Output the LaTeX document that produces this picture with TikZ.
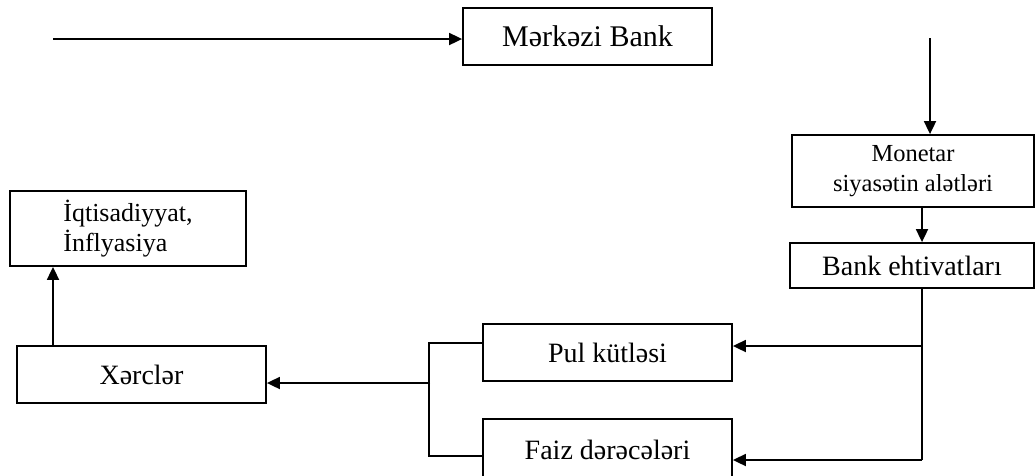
\documentclass[tikz,border=0pt]{standalone}
\usepackage{fontspec}
\setmainfont{Liberation Serif}
\usetikzlibrary{arrows.meta}

\begin{document}
\begin{tikzpicture}[x=1pt, y=-1pt,
    box/.style={draw, line width=1.8pt, inner sep=0pt, font=\fontsize{28}{31}\selectfont},
    arr/.style={line width=1.8pt, -{Triangle[length=13pt,width=12pt]}},
    ln/.style={line width=1.8pt}]
    \useasboundingbox (0,0) rectangle (1035,475);

    \node[box, minimum width=249pt, minimum height=57pt, font=\fontsize{30}{33}\selectfont] (merkezi) at (587.5,36.5) {Mərkəzi Bank};
    \node[box, minimum width=242pt, minimum height=72pt, align=center, font=\fontsize{24.5}{30}\selectfont] (monetar) at (913,171) {Monetar\\ siyasətin alətləri};
    \node[box, minimum width=244pt, minimum height=45pt] (bank) at (912,265.5) {Bank ehtivatları};
    \node[box, minimum width=249pt, minimum height=57pt] (pul) at (607.5,352.5) {Pul kütləsi};
    \node[box, minimum width=249pt, minimum height=62pt] (faiz) at (607.5,450) {Faiz dərəcələri};
    \node[box, minimum width=249pt, minimum height=57pt] (xerc) at (141.5,374.5) {Xərclər};
    \node[box, minimum width=236pt, minimum height=75pt, align=left, font=\fontsize{26}{30}\selectfont] (iqt) at (128,228.5) {İqtisadiyyat,\\ İnflyasiya};

    \coordinate (start) at (53,39);
    \coordinate (top) at (930,38);
    \coordinate (trunk) at (922,460);
    \coordinate (brk) at (430,383);
    \coordinate (up) at (53,0);

    % top row
    \draw[arr] (start) -- (start -| merkezi.west);
    \draw[arr] (top) -- (top |- monetar.north);
    \draw[arr] (monetar.south -| trunk) -- (bank.north -| trunk);

    % right branch
    \draw[ln] (bank.south -| trunk) -- (trunk);
    \draw[arr] ([yshift=6.5pt]pul.east -| trunk) -- ([yshift=6.5pt]pul.east);
    \draw[arr] (trunk) -- (trunk -| faiz.east);

    % left bracket
    \draw[ln] ([yshift=9.5pt]pul.west) -- ++(-53,0) |- ([yshift=-6pt]faiz.west);
    \draw[arr] (brk) -- (brk -| xerc.east);
    \draw[arr] (xerc.north -| up) -- (iqt.south -| up);
\end{tikzpicture}
\end{document}
